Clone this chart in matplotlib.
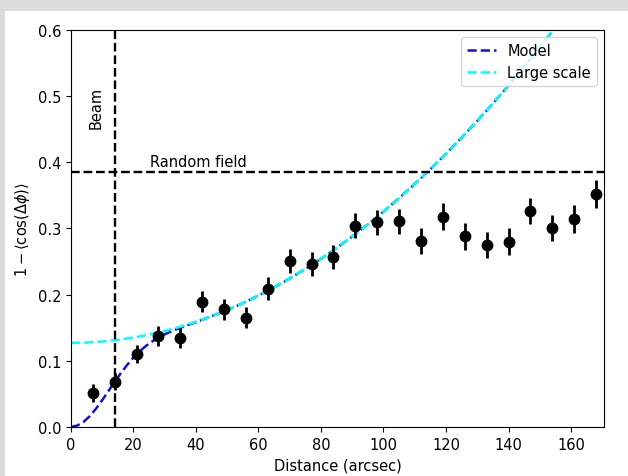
import numpy as np
import matplotlib
matplotlib.use("Agg")
from matplotlib import pyplot as plt
from matplotlib.patches import Rectangle

# measured dispersion function
dist = [7, 14, 21, 28, 35, 42, 49, 56, 63, 70, 77, 84,
        91, 98, 105, 112, 119, 126, 133, 140, 147, 154, 161, 168]
disp = [0.051, 0.068, 0.110, 0.137, 0.134, 0.189, 0.178, 0.165, 0.209, 0.251, 0.246, 0.257,
        0.304, 0.309, 0.311, 0.281, 0.318, 0.288, 0.275, 0.280, 0.326, 0.301, 0.314, 0.352]
disp_err = [0.014, 0.013, 0.014, 0.015, 0.015, 0.016, 0.016, 0.016, 0.017, 0.018, 0.018, 0.018,
            0.019, 0.019, 0.019, 0.019, 0.020, 0.020, 0.020, 0.020, 0.020, 0.020, 0.021, 0.021]

# model curves
model_x = [0, 2, 4, 6, 8, 10, 12, 14, 16, 18, 20, 22, 24, 26, 28, 30, 32, 34, 36, 38, 40,
           45, 50, 55, 60, 65, 70, 75, 80, 85, 90, 95, 100, 105, 110, 115, 120, 125,
           130, 135, 140, 145, 150, 155, 160]
model_y = [0.0, 0.0019, 0.0074, 0.0161, 0.0274, 0.0404, 0.0542, 0.0682, 0.0815, 0.0938,
           0.1048, 0.1143, 0.1224, 0.1292, 0.1350, 0.1399, 0.1441, 0.1479, 0.1515, 0.1550,
           0.1584, 0.1672, 0.1766, 0.1870, 0.1985, 0.2109, 0.2243, 0.2387, 0.2540, 0.2704,
           0.2878, 0.3061, 0.3255, 0.3458, 0.3672, 0.3895, 0.4128, 0.4372, 0.4625, 0.4888,
           0.5161, 0.5444, 0.5737, 0.6039, 0.6352]
large_x = [0, 5, 10, 15, 20, 25, 30, 35, 40, 45, 50, 55, 60, 65, 70, 75, 80, 85, 90,
           95, 100, 105, 110, 115, 120, 125, 130, 135, 140, 145, 150, 155, 160]
large_y = [0.127, 0.1275, 0.129, 0.1315, 0.135, 0.1394, 0.1449, 0.1513, 0.1588, 0.1672,
           0.1766, 0.1870, 0.1985, 0.2109, 0.2243, 0.2387, 0.2540, 0.2704, 0.2878, 0.3061,
           0.3255, 0.3458, 0.3672, 0.3895, 0.4128, 0.4372, 0.4625, 0.4888, 0.5161, 0.5444,
           0.5737, 0.6039, 0.6352]

beam = 14
random_field = 0.385

plt.rcParams['font.size'] = 10.5

fig = plt.figure(figsize=(6.28, 4.77), dpi=100, facecolor='#dcdcdc')
fig.patches.append(Rectangle((0.008, 0), 0.992, 1 - 12/477, transform=fig.transFigure,
                             facecolor='white', edgecolor='none', zorder=-1))
ax = fig.add_axes([0.113, 0.103, 0.849, 0.832])

ax.plot(model_x, model_y, '--', color='#1010d8', lw=1.8, label='Model')
ax.plot(large_x, large_y, '--', color='cyan', lw=1.8, label='Large scale')
ax.errorbar(dist, disp, yerr=disp_err, fmt='o', color='k', ms=7.5, elinewidth=2, capsize=0)

ax.axvline(beam, color='k', ls='--', lw=1.7)
ax.axhline(random_field, color='k', ls='--', lw=1.7)
ax.text(8, 0.483, 'Beam', rotation=90, ha='center', va='center')
ax.text(25.3, 0.39, 'Random field', ha='left', va='bottom')

ax.set_xlim(0, 170.6)
ax.set_ylim(0, 0.6)
ax.set_xlabel('Distance (arcsec)')
ax.set_ylabel(r'$1-\langle\cos(\Delta\phi)\rangle$')
ax.legend(loc='upper right')

fig.savefig('out.png', dpi=100, facecolor=fig.get_facecolor())
